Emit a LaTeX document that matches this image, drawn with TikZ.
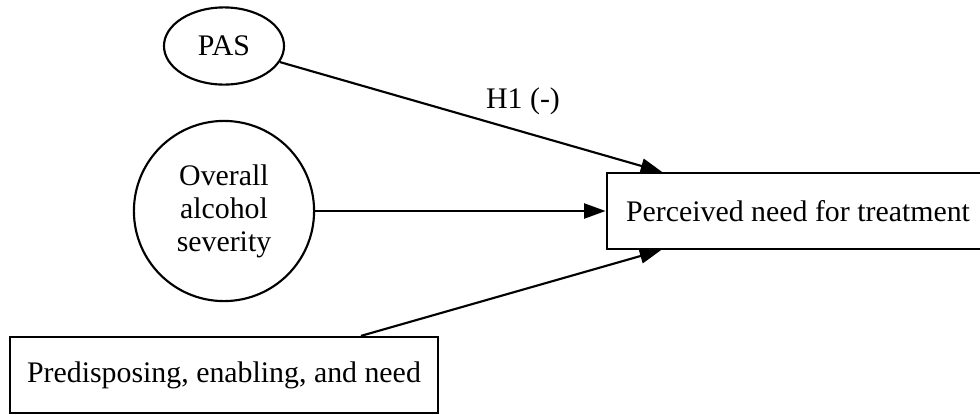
\documentclass[tikz,border=0pt]{standalone}
\usepackage{fontspec}
\setmainfont{Liberation Serif}
\usetikzlibrary{arrows.meta,shapes.geometric}
\newcommand{\nodefont}{\fontsize{14}{15.5}\selectfont}
\tikzset{
  latent/.style={ellipse,draw=black,line width=1pt,inner sep=0pt,
                 minimum width=56.3pt,minimum height=36.2pt,font=\nodefont},
  construct/.style={circle,draw=black,line width=1pt,inner sep=0pt,
                    minimum size=84.5pt,align=center,font=\nodefont},
  measure/.style={rectangle,draw=black,line width=1pt,inner sep=0pt,
                  minimum height=35.7pt,font=\nodefont},
  hypo/.style={font=\nodefont,inner sep=0pt},
  link/.style={draw=black,line width=1pt,
               -{Triangle[length=10pt,width=7pt]}}
}

\begin{document}
\begin{tikzpicture}[x=0.469pt,y=-0.469pt]
  \useasboundingbox (0,0) rectangle (980,414);
  \fill[white] (0,0) rectangle (980,414);

  % Predictors
  \node[latent] (pas) at (224,46) {PAS};
  \node[construct] (sev) at (224,211) {Overall\\alcohol\\severity};
  \node[measure,minimum width=201pt] (pred) at (224,375)
    {Predisposing, enabling, and need};

  % Outcome (its right side runs off the page)
  \node[measure,minimum width=179.5pt] (need) at (798,211)
    {Perceived need for treatment};

  % Paths
  \draw[link] (pas) -- (need);
  \draw[link] (sev) -- (need);
  \draw[link] (pred) -- (need);
  \node[hypo] (h1) at (523,101) {H1 (-)};
\end{tikzpicture}
\end{document}
